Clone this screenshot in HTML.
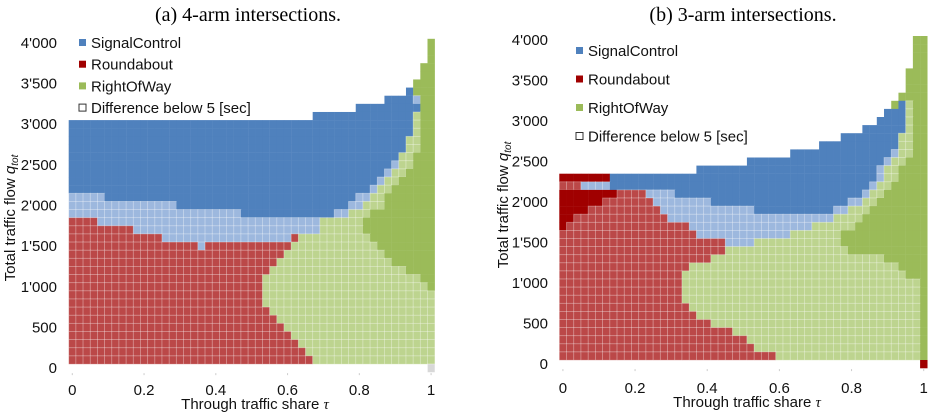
<!DOCTYPE html>
<html><head><meta charset="utf-8"><style>
body{margin:0;background:#fff;}
svg{display:block;font-family:"Liberation Sans",sans-serif;}
</style></head><body>
<svg id="chart" width="930" height="413" viewBox="0 0 930 413">
<text x="248" y="21" font-family="Liberation Serif" font-size="20" text-anchor="middle">(a) 4-arm intersections.</text>
<text x="743" y="21" font-family="Liberation Serif" font-size="20" text-anchor="middle">(b) 3-arm intersections.</text>
<g id="panelA"></g>
<g id="panelB"></g>
</svg>
<script>
// Category codes per heatmap row (top row = flow 4000, last = flow 0); runs "code+count" over 51 tau columns
const tauTicks = [0, 0.2, 0.4, 0.6, 0.8, 1];
const tauTickLabels = ["0", "0.2", "0.4", "0.6", "0.8", "1"];
const flowTicks = [0, 500, 1000, 1500, 2000, 2500, 3000, 3500, 4000];
const flowTickLabels = ["0", "500", "1'000", "1'500", "2'000", "2'500", "3'000", "3'500", "4'000"];
const legendLabels = ["SignalControl", "Roundabout", "RightOfWay", "Difference below 5 [sec]"];
const gridA = [
".50 G1",".50 G1",".50 G1",".49 G2",".49 G2",".48 G3",".47 B1 G3",".44 B4 b1 G2",".40 B9 G2",".34 B14 g1 G2",
"B48 g1 G2","B48 g1 G2","B47 g2 G2","B47 g2 G2","B46 g2 G3","B45 b1 g2 G3","B44 b1 g2 G4","B43 b1 g2 G5","B42 b1 g2 G6",
"b5 B35 b2 g2 G7","b15 B24 b2 g3 G7","b24 B13 b2 g3 G9","r4 b31 g6 G10","r9 b26 g6 G10","r13 b18 r1 g10 G9","r18 b1 r12 g12 G8",
"r30 g14 G7","r29 g16 G6","r28 g19 G4","r27 g22 G2","r27 g23 G1","r27 g24","r27 g24","r28 g23","r29 g22","r30 g21","r31 g20","r32 g19","r33 g18","r34 g17",
".50 x1"];
const gridB = [
".49 G2",".49 G2",".49 G2",".49 G2",".48 G3",".48 G3",".48 G3",".47 G4",".46 G1 B1 g1 G2",".45 B3 g1 G2",".44 B4 g1 G2",
".42 B6 g1 G2",".39 B8 g2 G2",".36 B11 g2 G2",".32 B14 b1 g2 G2",".26 B19 b1 g2 G3",".19 B25 b1 g2 G4",
"R7 B37 b1 g2 G4","r3 b4 B36 b1 g2 G5","R8 r4 b4 B26 b1 g2 G6","R6 r7 b8 B19 b2 g2 G7","R4 r10 b13 B11 b2 g3 G8",
"R2 r13 b23 g4 G9","R1 r17 b17 g6 G10","r19 b13 g7 G12","r23 b4 g12 G12","r23 g17 G11","r21 g24 G6","r18 g29 G4",
"r17 g31 G3","r17 g33 G1","r17 g33 G1","r17 g33 G1","r18 g32 G1","r19 g31 G1","r21 g29 G1","r24 g26 G1","r26 g24 G1","r27 g23 G1","r30 g20 G1",
".50 R1"];

const NS = "http://www.w3.org/2000/svg";
const fills = {B:"#4f81bd", b:"#9db8de", R:"#a00000", r:"#bb4848", G:"#9bbb59", g:"#bdd48f", x:"#d8d8d8"};
const pale = {b:1, r:1, g:1, x:1};
function mk(tag, attrs, parent){const e=document.createElementNS(NS,tag);for(const k in attrs)e.setAttribute(k,attrs[k]);parent.appendChild(e);return e;}

function drawPanel(g, grid, cfg){
  const xScale = t => cfg.left + cfg.cw*(t*50+0.5);
  const yScale = f => cfg.bottom - cfg.rh*(f/100 - 0.5);
  const nRows = grid.length;
  grid.forEach((rowStr, i) => {
    const flow = (nRows-1-i)*100;
    let col = 0;
    rowStr.split(" ").forEach(tok => {
      const code = tok[0], n = parseInt(tok.slice(1));
      if (code !== ".") {
        for (let k=0;k<n;k++){
          const tau = (col+k)/50;
          const cx = xScale(tau), cy = yScale(flow);
          const r = mk("rect",{x:(cx-cfg.cw/2).toFixed(2),y:(cy-cfg.rh/2).toFixed(2),width:(cfg.cw+0.2).toFixed(2),height:(cfg.rh+0.2).toFixed(2),fill:fills[code]},g);
          if (pale[code]) { r.setAttribute("stroke","rgba(255,255,255,0.35)"); r.setAttribute("stroke-width","0.8"); }
          
          
        }
      }
      col += n;
    });
  });
  flowTicks.forEach((f,i)=>{
    const t = mk("text",{x:cfg.ylabX,y:yScale(f)+5,"font-size":15,"text-anchor":"end",fill:"#111"},g);
    t.textContent = flowTickLabels[i];
    
    
  });
  tauTicks.forEach((v,i)=>{
    const t = mk("text",{x:xScale(v),y:cfg.xlabY,"font-size":15,"text-anchor":"middle",fill:"#111"},g);
    t.textContent = tauTickLabels[i];
    
    
    const d = mk("rect",{x:xScale(v)-0.5,y:cfg.bottom+cfg.rh+1,width:1,height:2,fill:"#ccc"},g);
    
    
  });
  const xt = mk("text",{x:cfg.xtX,y:cfg.xtY,"font-size":15,"text-anchor":"middle",fill:"#111"},g);
  xt.innerHTML = 'Through traffic share <tspan font-style="italic" font-family="Liberation Serif">τ</tspan>';
  
  
  const yt = mk("text",{x:0,y:0,"font-size":15,"text-anchor":"middle",fill:"#111",transform:`translate(${cfg.ytX},${cfg.ytY}) rotate(-90)`},g);
  yt.innerHTML = 'Total traffic flow <tspan font-style="italic">q</tspan><tspan font-style="italic" font-size="10" dy="3">tot</tspan>';
  
  
  const legCols = [fills.B, fills.R, fills.G, "#fff"];
  legendLabels.forEach((lab,i)=>{
    const y = cfg.legY + i*cfg.legDy;
    const sq = mk("rect",{x:cfg.legX,y:y-4,width:7,height:7,fill:legCols[i],stroke:i===3?"#333":"none","stroke-width":1},g);
    
    
    const t = mk("text",{x:cfg.legX+12,y:y+5,"font-size":15,fill:"#111"},g);
    t.textContent = lab;
    
    
  });
}
drawPanel(document.getElementById("panelA"), gridA,
  {left:68.7, cw:7.176, bottom:364, rh:8.13, ylabX:57, xlabY:395, xtX:255, xtY:409, ytX:15, ytY:218, legX:79, legY:43, legDy:21.7});
drawPanel(document.getElementById("panelB"), gridB,
  {left:559.3, cw:7.216, bottom:360, rh:8.1, ylabX:548, xlabY:393, xtX:747, xtY:407, ytX:508, ytY:205, legX:576, legY:51, legDy:28.5});
</script>
</body></html>
